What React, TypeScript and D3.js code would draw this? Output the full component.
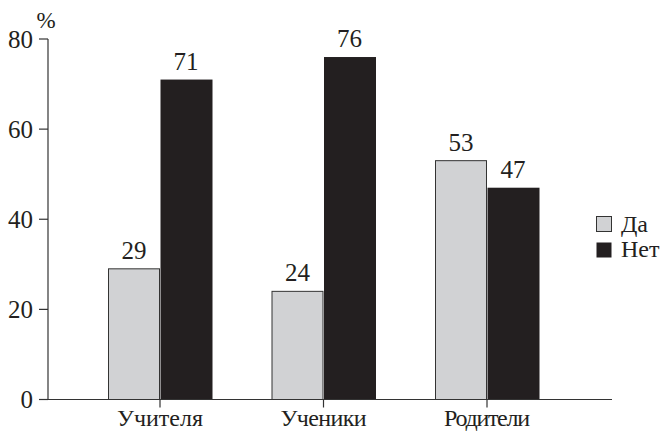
import React from "react";
import * as d3 from "d3";

const categories = ["Учителя", "Ученики", "Родители"];
const seriesNames = ["Да", "Нет"];
const yesValues = [29, 24, 53];
const noValues = [71, 76, 47];
const yTicks = [0, 20, 40, 60, 80];
const colors = ["#d1d2d4", "#231f20"];

const W = 661;
const H = 432;
const font = '"Liberation Serif"';

export default function App() {
  const x = d3.scaleBand<string>().domain(categories).range([78.25, 568.75]).paddingInner(0).paddingOuter(0);
  const inner = d3.scaleBand<string>().domain(seriesNames).range([0, 104]);
  const y = d3.scaleLinear().domain([0, 80]).range([399.5, 39]);
  const axisLeft = 48;
  const axisRight = 612;
  const series = [yesValues, noValues];
  const ts = { fontFamily: font };

  return (
    <svg width={W} height={H} style={{ position: "absolute", left: 0, top: 0 }}>
      <rect width={W} height={H} fill="#fff" />
      {categories.map((c, i) => {
        const cx = (x(c) as number) + x.bandwidth() / 2;
        return (
          <g key={c}>
            {seriesNames.map((s, j) => {
              const v = series[j][i];
              const bx = cx - 52 + (inner(s) as number);
              return (
                <g key={s}>
                  <rect
                    x={bx + 0.5}
                    y={y(v)}
                    width={inner.bandwidth() - (j === 0 ? 1 : 0)}
                    height={y(0) - y(v)}
                    fill={colors[j]}
                    stroke={j === 0 ? "#333" : "none"}
                    strokeWidth={1}
                  />
                  <text style={ts} x={bx + inner.bandwidth() / 2} y={y(v) - 10} textAnchor="middle" fontSize={25} fill="#231f20">
                    {v}
                  </text>
                </g>
              );
            })}
            <line x1={cx} x2={cx} y1={y(0)} y2={y(0) + 8} stroke="#333" strokeWidth={1.2} />
            <text style={ts} x={cx} y={426} textAnchor="middle" fontSize={24} fill="#231f20" textLength={86} lengthAdjust="spacing">
              {c}
            </text>
          </g>
        );
      })}
      <line x1={axisLeft} x2={axisRight} y1={y(0)} y2={y(0)} stroke="#333" strokeWidth={1.2} />
      <line x1={axisLeft} x2={axisLeft} y1={y(80)} y2={y(0)} stroke="#333" strokeWidth={1.2} />
      {yTicks.map((t) => (
        <g key={t}>
          <line x1={axisLeft - 9} x2={axisLeft} y1={y(t)} y2={y(t)} stroke="#333" strokeWidth={1.2} />
          <text style={ts} x={33} y={y(t) + 8.5} textAnchor="end" fontSize={25} fill="#231f20">
            {t}
          </text>
        </g>
      ))}
      <text style={ts} x={46} y={28} textAnchor="middle" fontSize={23} fill="#231f20">
        %
      </text>
      {seriesNames.map((s, j) => (
        <g key={s}>
          <rect x={596.5} y={216.5 + j * 26} width={15} height={15} fill={colors[j]} stroke={j === 0 ? "#333" : "none"} />
          <text style={ts} x={621} y={232 + j * 25} fontSize={24} fill="#231f20">
            {s}
          </text>
        </g>
      ))}
    </svg>
  );
}
